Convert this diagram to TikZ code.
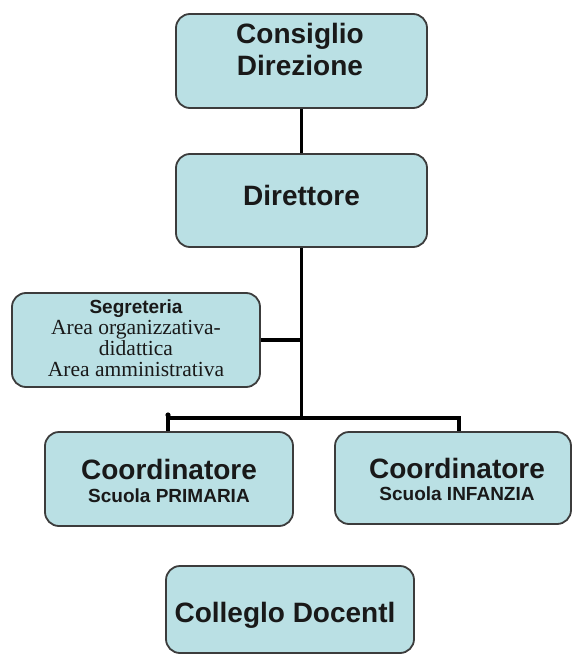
\documentclass[tikz,border=0pt]{standalone}
\usepackage{fontspec}
\setmainfont{Liberation Sans}
\newfontfamily\serifA{Liberation Serif}
\definecolor{boxfill}{RGB}{186,224,228}
\definecolor{boxline}{RGB}{60,60,60}
\definecolor{txt}{RGB}{25,25,25}
\begin{document}
\begin{tikzpicture}[x=1pt,y=-1pt,
  orgbox/.style={draw=boxline, line width=1.8pt, fill=boxfill, rounded corners=14pt, inner sep=0pt},
  big/.style={font=\fontsize{28}{32}\selectfont\bfseries, text=txt, align=center, inner sep=0pt},
  small/.style={font=\fontsize{19}{21}\selectfont\bfseries, text=txt, inner sep=0pt},
  link/.style={line width=3.2pt, black}]
\useasboundingbox (0,0) rectangle (572,655);
% boxes
\node[orgbox, minimum width=251pt, minimum height=94pt] (cd) at (301.5,61) {};
\node[orgbox, minimum width=251pt, minimum height=93pt] (dir) at (301.5,200.5) {};
\node[orgbox, minimum width=248pt, minimum height=94pt] (seg) at (136,340) {};
\node[orgbox, minimum width=248pt, minimum height=94pt] (prim) at (169,479) {};
\node[orgbox, minimum width=236pt, minimum height=92pt] (inf) at (453,478) {};
\node[orgbox, minimum width=248pt, minimum height=87pt] (col) at (290,609.5) {};
% texts
\node[big] (cdt) at (300,49) {Consiglio\\Direzione};
\node[big] (dirt) at (301.5,195) {Direttore};
\node[align=center, inner sep=0pt, text=txt, font=\fontsize{21.5}{21}\selectfont] (segt) at (136,338)
  {{\fontsize{19}{21}\selectfont\bfseries Segreteria}\\{\serifA Area organizzativa-}\\{\serifA didattica}\\{\serifA Area amministrativa}};
\node[big] (primt1) at (169,469) {Coordinatore};
\node[small] (primt2) at (169,496) {Scuola PRIMARIA};
\node[big] (inft1) at (457,468) {Coordinatore};
\node[small] (inft2) at (457,494) {Scuola INFANZIA};
\node[big] (colt) at (285,615) {Colleglo Docentl};
% connectors
\coordinate (busL) at (168,418);
\coordinate (busR) at (459,418);
\draw[link] (cd.south) -- (dir.north);
\draw[link] (dir.south) -- (dir.south |- busL);
\draw[link] (seg.east) -- (seg.east -| dir.south);
\draw[link] (busL |- prim.north) -- (busL) -- (busR) -- (busR |- inf.north);
\fill (busL) ++(0,-3) circle (2.6pt);
\end{tikzpicture}
\end{document}
